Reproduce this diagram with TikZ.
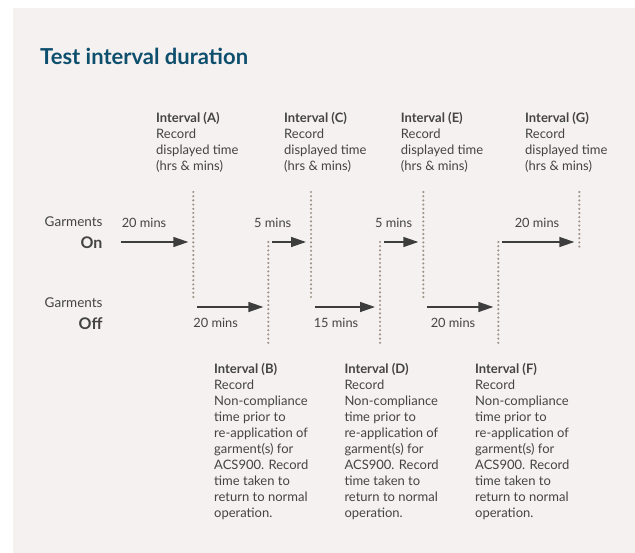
\documentclass[tikz,border=0pt]{standalone}
\usepackage{fontspec}
\setmainfont{Lato}
\usetikzlibrary{arrows.meta}

\definecolor{paper}{HTML}{F5F1F0}
\definecolor{titleblue}{HTML}{0E4F6E}
\definecolor{txt}{HTML}{444444}
\definecolor{ink}{HTML}{3D3D3D}
\definecolor{dots}{HTML}{A0958B}

\tikzset{
  marker/.style={dots, line width=2.4pt, line cap=round, dash pattern=on 0pt off 4.2pt},
  flow/.style={ink, line width=1.4pt, -{Triangle[length=15pt,width=10pt]}, shorten >=5pt},
  gap/.style={shorten <=4pt},
  note/.style={anchor=base west, align=left, inner sep=0pt, text=txt,
    font=\fontsize{13}{16}\selectfont},
  mins/.style={inner sep=0pt, text=txt, font=\fontsize{12.8}{15}\selectfont},
  side/.style={anchor=east, inner sep=0pt, text=txt, font=\fontsize{13.5}{15}\selectfont},
  state/.style={anchor=east, inner sep=0pt, text=txt, font=\fontsize{16}{18}\selectfont\bfseries}
}

\begin{document}
\begin{tikzpicture}[x=1pt, y=-1pt]
        \useasboundingbox (0,0) rectangle (635,553);
        \fill[paper] (13,8) rectangle (635,553);

        \node[anchor=base west, inner sep=0pt, text=titleblue, font=\fontsize{22}{26}\selectfont\bfseries] (ttl) at (40,65) {Test interval duration};

        % rows
        \coordinate (on) at (0,242);
        \coordinate (off) at (0,307);
        \coordinate (start) at (120.7,242);

        % dotted markers
        \foreach \n/\x/\t/\b in {A/193.3/192/299, B/268.3/242/346, C/311/192/299, D/380/242/346, E/423.3/192/299, F/498.3/242/346, G/579.3/192/249} {
            \coordinate (top\n) at (\x,\t);
            \coordinate (bot\n) at (\x,\b);
            \draw[marker] (top\n) -- (bot\n);
        }

        \node[side] (gon) at (102.7,221.7) {Garments};
        \node[state] (onword) at (102.7,242.7) {On};
        \node[side] (goff) at (102.7,302.3) {Garments};
        \node[state] (offword) at (102.7,323.3) {Off};

        \draw[flow] (start) -- (topA |- on);
        \draw[flow, gap] (topA |- off) -- (topB |- off);
        \draw[flow, gap] (topB |- on) -- (topC |- on);
        \draw[flow, gap] (topC |- off) -- (topD |- off);
        \draw[flow, gap] (topD |- on) -- (topE |- on);
        \draw[flow, gap] (topE |- off) -- (topF |- off);
        \draw[flow, gap] (topF |- on) -- (topG |- on);

        \node[mins] (m1) at (144,222.7) {20 mins};
        \node[mins] (m2) at (215.7,323.3) {20 mins};
        \node[mins] (m3) at (272.7,222.7) {5 mins};
        \node[mins] (m4) at (336,323.3) {15 mins};
        \node[mins] (m5) at (393.6,222.7) {5 mins};
        \node[mins] (m6) at (453,323.3) {20 mins};
        \node[mins] (m7) at (537,222.7) {20 mins};

        % base = baseline of the last line
        \node[note] (iA) at (156,170.7) {\textbf{Interval (A)}\\Record\\displayed time\\(hrs \& mins)};
        \node[note] (iC) at (284,170.7) {\textbf{Interval (C)}\\Record\\displayed time\\(hrs \& mins)};
        \node[note] (iE) at (400.7,170.7) {\textbf{Interval (E)}\\Record\\displayed time\\(hrs \& mins)};
        \node[note] (iG) at (525,170.7) {\textbf{Interval (G)}\\Record\\displayed time\\(hrs \& mins)};

        \node[note] (iB) at (214,517.8) {\textbf{Interval (B)}\\Record\\Non-compliance\\time prior to\\re-application of\\garment(s) for\\ACS900. Record\\time taken to\\return to normal\\operation.};
        \node[note] (iD) at (344.3,517.8) {\textbf{Interval (D)}\\Record\\Non-compliance\\time prior to\\re-application of\\garment(s) for\\ACS900. Record\\time taken to\\return to normal\\operation.};
        \node[note] (iF) at (475,517.8) {\textbf{Interval (F)}\\Record\\Non-compliance\\time prior to\\re-application of\\garment(s) for\\ACS900. Record\\time taken to\\return to normal\\operation.};

    \end{tikzpicture}
\end{document}
